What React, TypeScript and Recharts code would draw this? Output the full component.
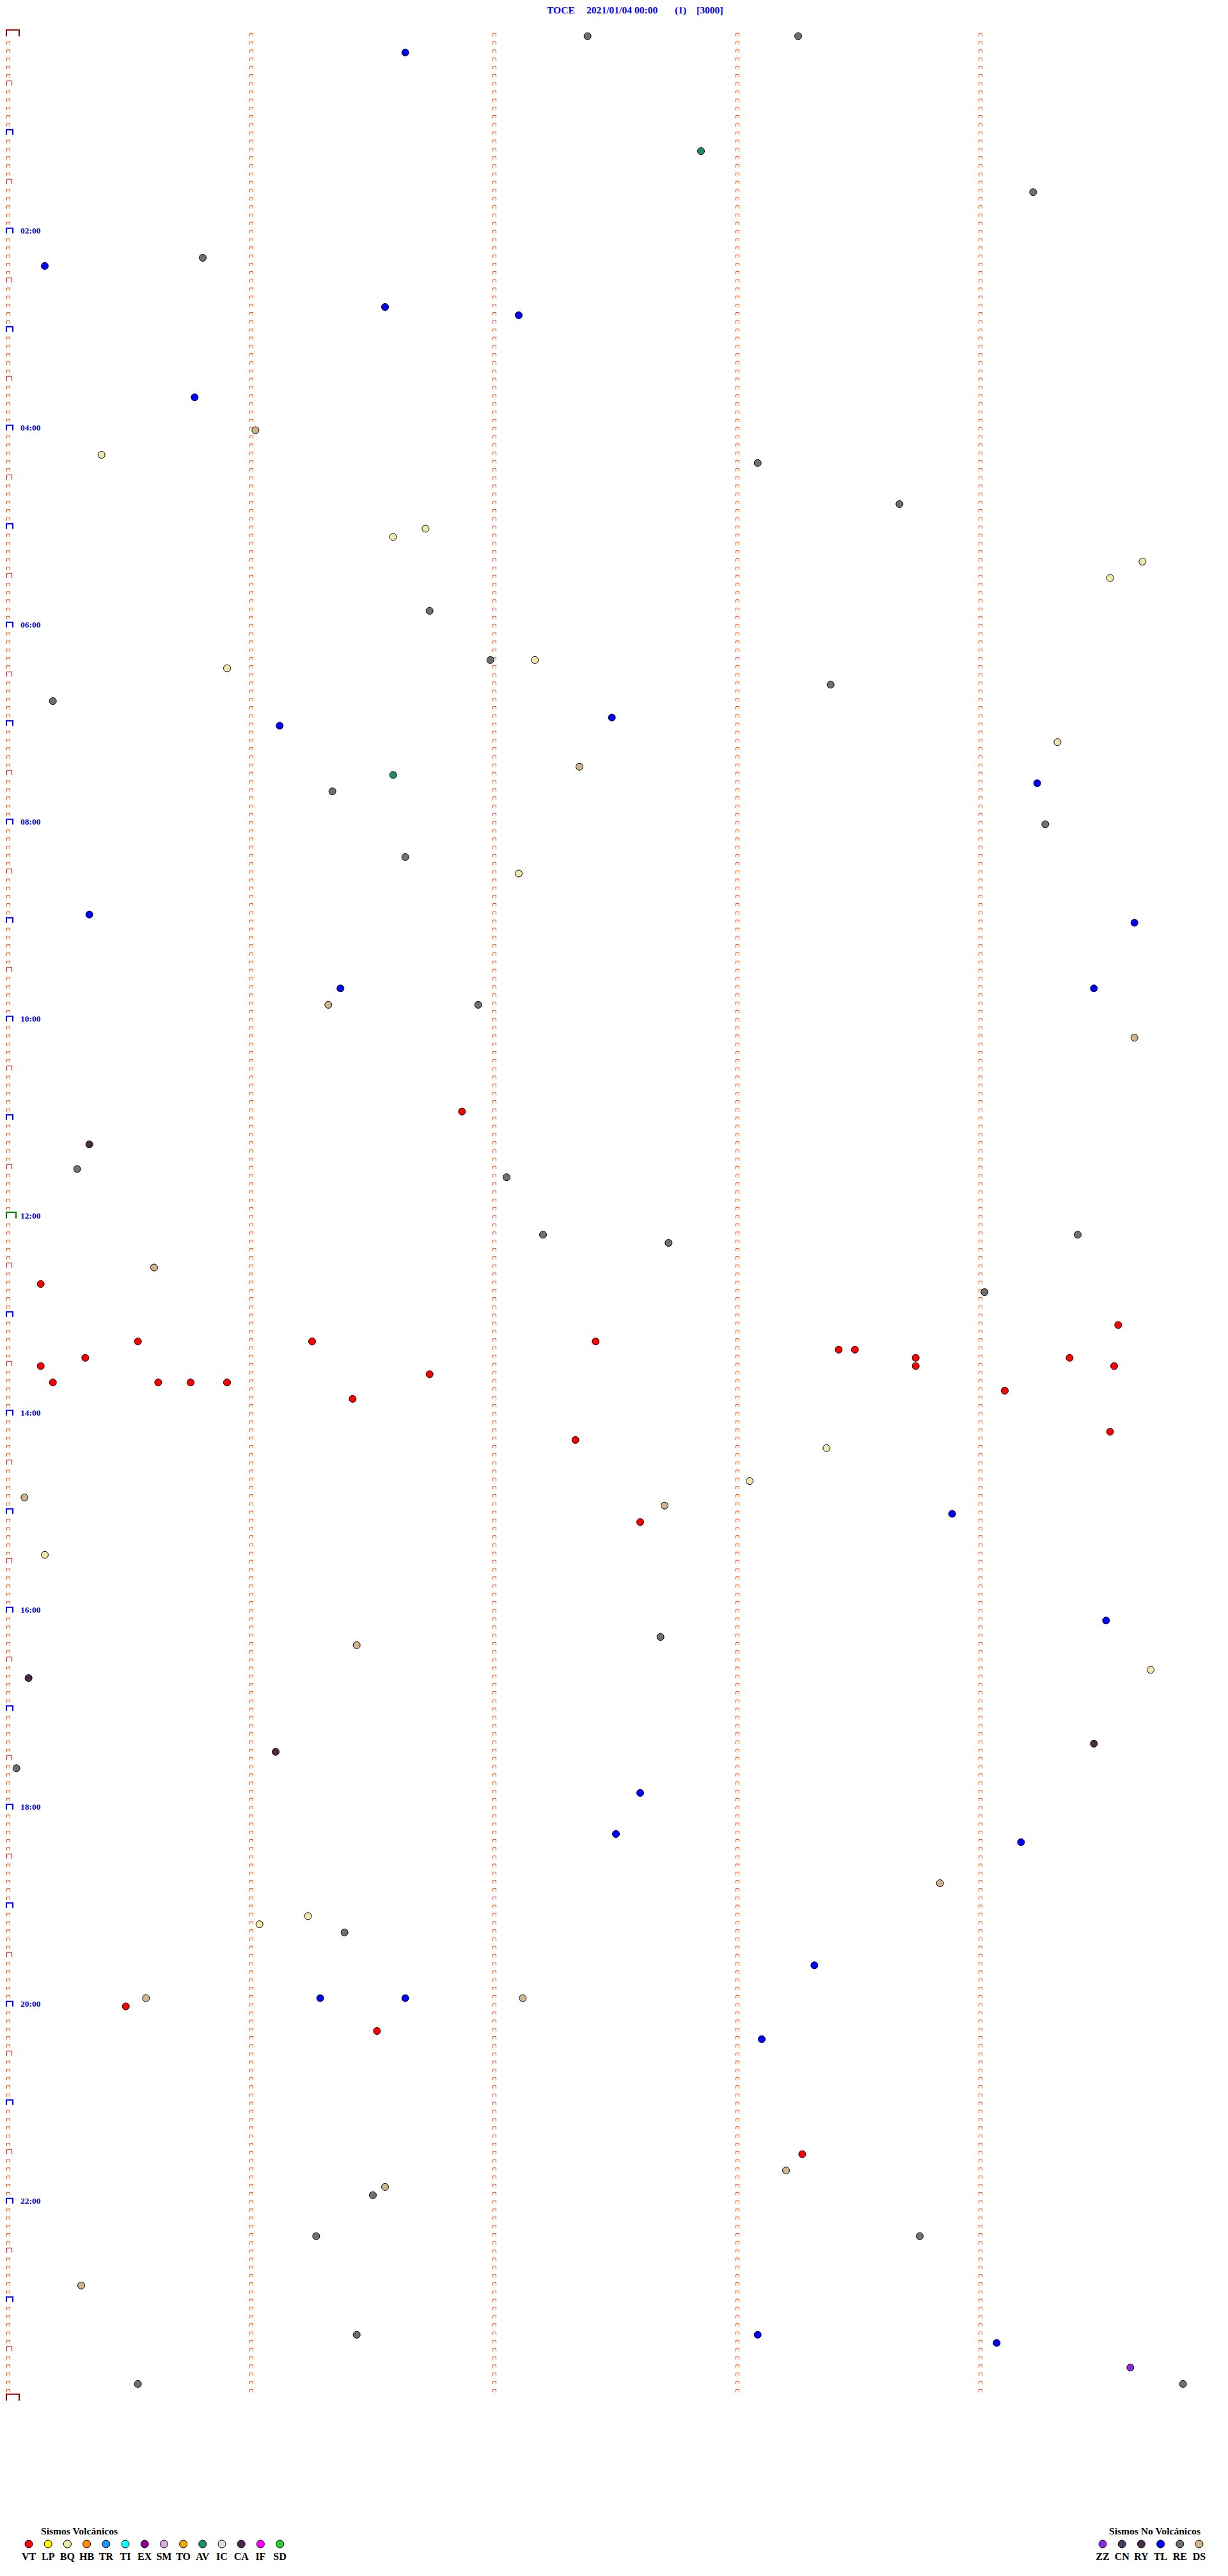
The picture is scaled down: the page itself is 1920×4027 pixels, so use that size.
import React from "react";
import { Scatter, ScatterChart, XAxis, YAxis } from "recharts";

// one row = 5 minutes, columns mark each minute inside the row
const ROWS_PER_DAY = 288;
const MINUTES_PER_ROW = 5;

const TITLE_PARTS = ["TOCE", "2021/01/04 00:00", "(1)", "[3000]"];
const HOUR_LABELS = [
  "02:00", "04:00", "06:00", "08:00", "10:00", "12:00",
  "14:00", "16:00", "18:00", "20:00", "22:00",
];

const VOLCANIC_CODES = ["VT", "LP", "BQ", "HB", "TR", "TI", "EX", "SM", "TO", "AV", "IC", "CA", "IF", "SD"];
const VOLCANIC_COLORS = [
  "#ff0000", "#ffff00", "#eee8aa", "#ff8c00", "#1e90ff", "#00ffff", "#8b008b",
  "#e0a8e0", "#ffa500", "#228b60", "#dcdcdc", "#4b2a4b", "#ff00ff", "#32cd32",
];
const NON_VOLCANIC_CODES = ["ZZ", "CN", "RY", "TL", "RE", "DS"];
const NON_VOLCANIC_COLORS = ["#8a2be2", "#4b3a5c", "#4a2a48", "#0000ff", "#707070", "#d2b48c"];

// event times (HH:MM:SS) read per class
const VT_TIMES = [
  "10:56:52", "12:40:08", "13:09:34", "13:15:32", "13:16:15", "13:17:25", "13:23:25",
  "13:23:29", "13:25:19", "13:28:44", "13:29:22", "13:30:08", "13:33:44", "13:34:33",
  "13:36:44", "13:40:11", "13:40:37", "13:40:45", "13:40:54", "13:49:06", "13:51:25",
  "14:14:32", "14:17:20", "15:07:36", "20:00:29", "20:16:31", "21:33:16",
];
const BQ_TIMES = [
  "04:15:23", "05:01:43", "05:06:35", "05:24:40", "05:34:32", "06:22:10", "06:25:54",
  "07:14:19", "08:32:06", "14:23:22", "14:43:03", "15:25:09", "16:39:42", "19:06:14",
  "19:11:02",
];
const AV_TIMES = ["01:12:51", "07:31:35"];
const ZZ_TIMES = ["23:44:37"];
const RY_TIMES = ["11:15:20", "16:40:05", "17:24:28", "17:26:06"];
const TL_TIMES = [
  "00:11:38", "02:20:09", "02:46:33", "02:52:06", "03:40:46", "06:57:29", "07:01:07",
  "07:39:14", "08:55:20", "09:04:38", "09:41:22", "09:44:28", "15:03:53", "16:09:31",
  "17:52:36", "18:17:30", "18:24:10", "19:38:19", "19:56:17", "19:56:38", "20:23:06",
  "23:23:05", "23:29:04",
];
const RE_TIMES = [
  "00:02:23", "00:03:15", "01:39:13", "02:15:48", "04:23:05", "04:48:40", "05:51:44",
  "06:21:59", "06:38:23", "06:45:11", "07:41:20", "08:04:16", "08:21:38", "09:51:56",
  "11:30:17", "11:37:03", "12:12:12", "12:14:24", "12:17:43", "12:49:01", "16:17:41",
  "17:35:02", "19:16:23", "21:56:30", "22:21:16", "22:23:45", "23:21:26", "23:50:32",
  "23:54:50",
];
const DS_TIMES = [
  "04:01:01", "07:27:21", "09:51:19", "10:14:38", "12:30:36", "14:50:04", "14:57:42",
  "16:21:26", "18:48:50", "19:55:34", "19:57:07", "21:43:12", "21:51:33", "22:50:18",
];

const SERIES: { code: string; times: string[] }[] = [
  { code: "RE", times: RE_TIMES },
  { code: "DS", times: DS_TIMES },
  { code: "TL", times: TL_TIMES },
  { code: "RY", times: RY_TIMES },
  { code: "ZZ", times: ZZ_TIMES },
  { code: "BQ", times: BQ_TIMES },
  { code: "AV", times: AV_TIMES },
  { code: "VT", times: VT_TIMES },
];

const FONT = "'Liberation Serif', 'Times New Roman', serif";

function colorOf(code: string): string {
  const v = VOLCANIC_CODES.indexOf(code);
  if (v >= 0) return VOLCANIC_COLORS[v];
  return NON_VOLCANIC_COLORS[NON_VOLCANIC_CODES.indexOf(code)];
}

function toPoint(t: string) {
  const [h, m, s] = t.split(":").map(Number);
  const sec = h * 3600 + m * 60 + s;
  const rowSec = MINUTES_PER_ROW * 60;
  return { x: (sec % rowSec) / 60, y: Math.floor(sec / rowSec), t };
}

// tick marks of the drum: col 0 carries every row incl. the closing one
const gridMarks: { x: number; y: number }[] = [];
for (let col = 0; col < MINUTES_PER_ROW; col++) {
  const last = col === 0 ? ROWS_PER_DAY : ROWS_PER_DAY - 1;
  for (let row = 0; row <= last; row++) gridMarks.push({ x: col, y: row });
}

const hourLabelPoints = HOUR_LABELS.map((label) => ({
  x: 0,
  y: Number(label.slice(0, 2)) * 12,
  label,
}));

function GridMark(props: any) {
  const { cx, cy, payload } = props;
  const b = cy + 2.7;
  const col = payload.x;
  const row = payload.y;
  if (col === 0 && (row === 0 || row === ROWS_PER_DAY)) {
    return <path d={`M${cx - 3} ${b} V${b - 10} H${cx + 17} V${b}`} fill="none" stroke="#990000" strokeWidth={2} />;
  }
  if (col === 0 && row === 144) {
    return <path d={`M${cx - 3} ${b} V${b - 9.5} H${cx + 12} V${b}`} fill="none" stroke="#008000" strokeWidth={2} />;
  }
  if (col === 0 && row % 12 === 0) {
    return <path d={`M${cx - 3} ${b} V${b - 8} H${cx + 7} V${b}`} fill="none" stroke="#0000ff" strokeWidth={2} />;
  }
  if (col === 0 && row % 12 === 6) {
    return <path d={`M${cx - 2.5} ${b} V${b - 7.5} H${cx + 5.5} V${b}`} fill="none" stroke="#ff0000" strokeWidth={1} />;
  }
  return <path d={`M${cx - 2.5} ${b} V${b - 4.5} H${cx + 2.5} V${b}`} fill="none" stroke="#ff4500" strokeWidth={1} />;
}

function HourLabel(props: any) {
  const { cx, cy, payload } = props;
  return (
    <text x={cx + 19} y={cy + 2.5} fill="#0000ff" fontFamily={FONT} fontWeight="bold" fontSize={13.5}>
      {payload.label}
    </text>
  );
}

function makeDot(color: string) {
  return (props: any) => (
    <circle cx={props.cx} cy={props.cy + 2.5} r={5.5} fill={color} stroke="#000" strokeWidth={1} />
  );
}

function Title() {
  const xs = [855, 917, 1055, 1089];
  return (
    <svg width={1920} height={40} style={{ position: "absolute", left: 0, top: 0 }}>
      {TITLE_PARTS.map((p, i) => (
        <text key={p} x={xs[i]} y={21} fill="#0000ff" fontFamily={FONT} fontWeight="bold" fontSize={15.6}>
          {p}
        </text>
      ))}
    </svg>
  );
}

function LegendGroup({ title, codes, colors, x0, titleX }: { title: string; codes: string[]; colors: string[]; x0: number; titleX: number }) {
  return (
    <g>
      <text x={titleX} y={32} fontFamily={FONT} fontWeight="bold" fontSize={15.6} fill="#000">
        {title}
      </text>
      {codes.map((c, i) => {
        const x = x0 + i * 30.2;
        return (
          <g key={c}>
            <circle cx={x} cy={47} r={6} fill={colors[i]} stroke="#000" strokeWidth={1} />
            <text x={x} y={72} textAnchor="middle" fontFamily={FONT} fontWeight="bold" fontSize={16} fill="#000">
              {c}
            </text>
          </g>
        );
      })}
    </g>
  );
}

function Legends() {
  return (
    <svg width={1920} height={97} style={{ position: "absolute", left: 0, top: 3930 }}>
      <LegendGroup title="Sismos Volcánicos" codes={VOLCANIC_CODES} colors={VOLCANIC_COLORS} x0={45} titleX={64} />
      <LegendGroup title="Sismos No Volcánicos" codes={NON_VOLCANIC_CODES} colors={NON_VOLCANIC_COLORS} x0={1724} titleX={1734} />
    </svg>
  );
}

export default function App() {
  return (
    <div style={{ position: "absolute", left: 0, top: 0, width: 1920, height: 4027, background: "#fff" }}>
      <ScatterChart width={1920} height={4027} margin={{ top: 54, right: 7, bottom: 277, left: 13 }}>
        <XAxis type="number" dataKey="x" domain={[0, MINUTES_PER_ROW]} hide />
        <YAxis type="number" dataKey="y" domain={[0, ROWS_PER_DAY]} reversed hide />
        <Scatter data={gridMarks} shape={GridMark} isAnimationActive={false} />
        <Scatter data={hourLabelPoints} shape={HourLabel} isAnimationActive={false} />
        {SERIES.map((s) => (
          <Scatter
            key={s.code}
            name={s.code}
            data={s.times.map(toPoint)}
            shape={makeDot(colorOf(s.code))}
            isAnimationActive={false}
          />
        ))}
      </ScatterChart>
      <Title />
      <Legends />
    </div>
  );
}
